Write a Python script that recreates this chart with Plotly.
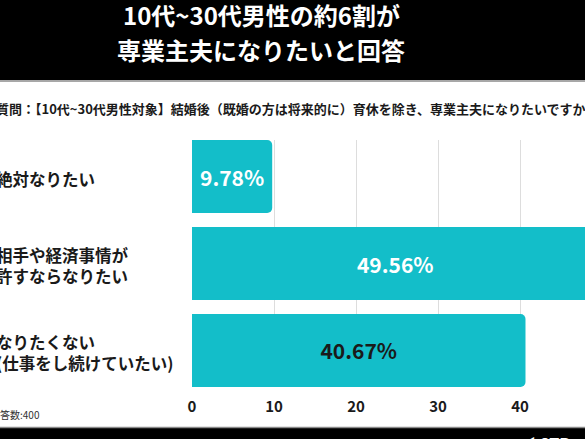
import plotly.graph_objects as go

# ---- data ----
categories = [
    "絶対なりたい",
    "相手や経済事情が<br>許すならなりたい",
    "なりたくない<br>(仕事をし続けていたい)",
]
values = [9.78, 49.56, 40.67]
value_labels = ["9.78%", "49.56%", "40.67%"]
label_colors = ["#ffffff", "#ffffff", "#1a1a1a"]
x_ticks = [0, 10, 20, 30, 40]
title_lines = ["10代~30代男性の約6割が", "専業主夫になりたいと回答"]
question = "質問：【10代~30代男性対象】結婚後（既婚の方は将来的に）育休を除き、専業主夫になりたいですか？"
footnote = "回答数:400"
logo = "◀ STR"

# ---- layout geometry ----
W, H = 585, 439
L, R, T, B = 192, 0, 140, 52
PW = W - L - R
PH = H - T - B
PX_PER_UNIT = 8.2
FONT = "Noto Sans CJK JP"
BAR = "#13BEC9"
DARK = "#1a1a1a"


def px(x):
    return (x - L) / PW


def py(y):
    return (H - B - y) / PH


fig = go.Figure(
    go.Bar(
        x=values,
        y=categories,
        orientation="h",
        marker=dict(color=BAR, line=dict(width=0), cornerradius=5),
        text=value_labels,
        textposition="inside",
        insidetextanchor="middle",
        textangle=0,
        textfont=dict(family=FONT, size=21, color=label_colors, weight="bold"),
        hoverinfo="skip",
    )
)

annotations = []
# title
for line, yy in zip(title_lines, [14, 50]):
    annotations.append(dict(
        text=line, xref="paper", yref="paper", x=px(261), y=py(yy),
        xanchor="center", yanchor="middle", showarrow=False,
        font=dict(family=FONT, size=24, color="#ffffff", weight="bold"),
    ))
# question
annotations.append(dict(
    text=question, xref="paper", yref="paper", x=px(-6), y=py(108),
    xanchor="left", yanchor="middle", showarrow=False,
    font=dict(family=FONT, size=13, color=DARK, weight="bold"),
))
# category labels
for c in categories:
    annotations.append(dict(
        text=c, xref="paper", yref="y", x=px(-6), y=c, yshift=-2,
        xanchor="left", yanchor="middle", showarrow=False, align="left",
        font=dict(family=FONT, size=16.5, color=DARK, weight="bold"),
    ))
# footnote
annotations.append(dict(
    text=footnote, xref="paper", yref="paper", x=px(-12), y=py(414),
    xanchor="left", yanchor="middle", showarrow=False,
    font=dict(family=FONT, size=10, color="#333333"),
))
# logo (cut at bottom)
annotations.append(dict(
    text=logo, xref="paper", yref="paper", x=px(518), y=py(443),
    xanchor="left", yanchor="middle", showarrow=False,
    font=dict(family=FONT, size=16, color="#ffffff", weight="bold"),
))

shapes = [
    dict(type="rect", xref="paper", yref="paper", x0=px(-5), x1=px(W + 5),
         y0=py(80), y1=py(-5), fillcolor="#000000", line=dict(width=0), layer="above"),
    dict(type="line", xref="paper", yref="paper", x0=px(-5), x1=px(W + 5),
         y0=py(81), y1=py(81), line=dict(color="#8a8a8a", width=1.5)),
    dict(type="rect", xref="paper", yref="paper", x0=px(-5), x1=px(W + 5),
         y0=py(445), y1=py(428), fillcolor="#000000", line=dict(width=0), layer="below"),
    dict(type="line", xref="paper", yref="paper", x0=px(-5), x1=px(W + 5),
         y0=py(427.5), y1=py(427.5), line=dict(color="#8a8a8a", width=1.5)),
]

fig.update_layout(
    width=W, height=H, autosize=False,
    margin=dict(l=L, r=R, t=T, b=B, pad=0),
    paper_bgcolor="#ffffff", plot_bgcolor="#ffffff",
    showlegend=False,
    bargap=0.16,
    annotations=annotations,
    shapes=shapes,
    xaxis=dict(
        range=[0, PW / PX_PER_UNIT], tickvals=x_ticks, ticktext=[str(t) for t in x_ticks],
        showgrid=True, gridcolor="#dddddd", gridwidth=1, zeroline=False, showline=False,
        ticks="outside", ticklen=6, tickcolor="rgba(0,0,0,0)",
        tickfont=dict(family=FONT, size=15, color=DARK, weight="bold"),
        fixedrange=True,
    ),
    yaxis=dict(
        type="category", categoryorder="array", categoryarray=categories,
        range=[2.42, -0.42], showticklabels=False, showgrid=False, zeroline=False,
        showline=False, fixedrange=True,
    ),
)

fig.write_html(
    "out.html",
    config={"displayModeBar": False},
    post_script="document.body.style.margin='0';document.body.style.overflow='hidden';",
)
